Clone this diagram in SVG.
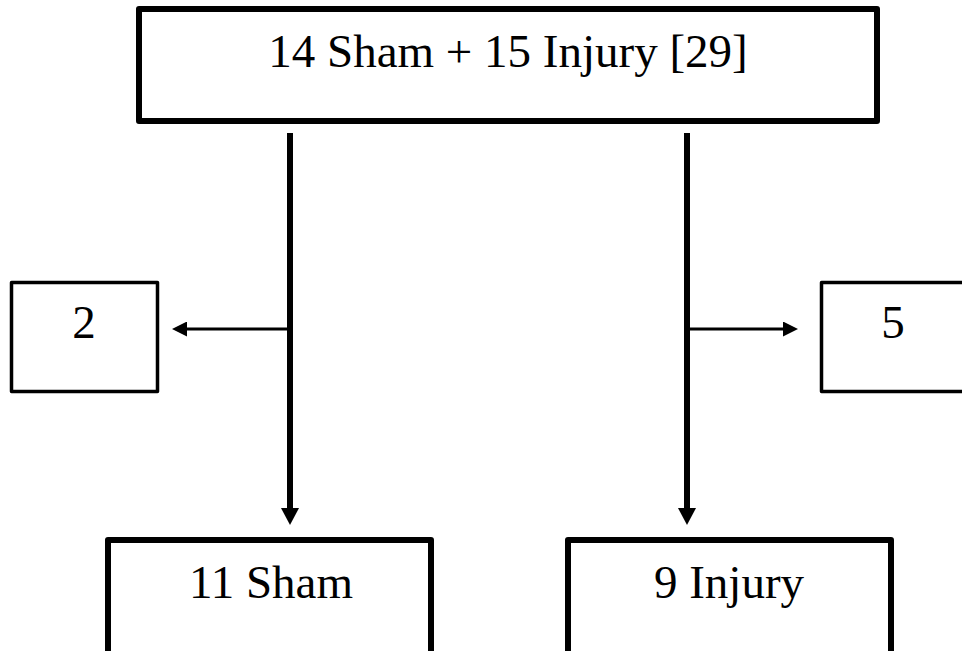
<svg xmlns="http://www.w3.org/2000/svg" width="962" height="651" viewBox="0 0 962 651">
  <defs>
    <style>
      .box { fill: #fff; stroke: #000; stroke-linejoin: round; }
      .thick { stroke-width: 6; }
      .thin { stroke-width: 3.5; }
      .lbl { font-family: "Liberation Serif", "Times New Roman", serif; font-size: 47px; fill: #000; text-anchor: middle; }
      .conn { stroke: #000; fill: none; stroke-linecap: butt; }
      .main { stroke-width: 6; }
      .side { stroke-width: 3; }
    </style>
    <marker id="arrDown" markerUnits="userSpaceOnUse" markerWidth="18" markerHeight="18" viewBox="0 0 17 18" refX="0" refY="9" orient="auto">
      <path d="M0,0 L17,9 L0,18 Z" fill="#000"/>
    </marker>
    <marker id="arrSide" markerUnits="userSpaceOnUse" markerWidth="15" markerHeight="15" viewBox="0 0 15 15" refX="0" refY="7.5" orient="auto">
      <path d="M0,0 L15,7.5 L0,15 Z" fill="#000"/>
    </marker>
  </defs>
  <rect width="962" height="651" fill="#fff"/>

  <g id="connectors">
    <line class="conn main" x1="290" y1="133" x2="290" y2="508" marker-end="url(#arrDown)"/>
    <line class="conn main" x1="687" y1="133" x2="687" y2="508" marker-end="url(#arrDown)"/>
    <line class="conn side" x1="290" y1="329" x2="187" y2="329" marker-end="url(#arrSide)"/>
    <line class="conn side" x1="687" y1="329" x2="783" y2="329" marker-end="url(#arrSide)"/>
  </g>

  <g id="node-top">
    <rect class="box thick" x="139" y="9" width="738" height="112"/>
    <text class="lbl" x="508" y="67">14 Sham + 15 Injury [29]</text>
  </g>

  <g id="node-excl-left">
    <rect class="box thin" x="11.5" y="282.5" width="146" height="109"/>
    <text class="lbl" x="84" y="338">2</text>
  </g>

  <g id="node-excl-right">
    <rect class="box thin" x="821.5" y="282.5" width="200" height="109"/>
    <text class="lbl" x="893" y="338">5</text>
  </g>

  <g id="node-sham">
    <rect class="box thick" x="108" y="540" width="323" height="200"/>
    <text class="lbl" x="271" y="598">11 Sham</text>
  </g>

  <g id="node-injury">
    <rect class="box thick" x="568" y="540" width="323" height="200"/>
    <text class="lbl" x="729" y="598">9 Injury</text>
  </g>
</svg>
